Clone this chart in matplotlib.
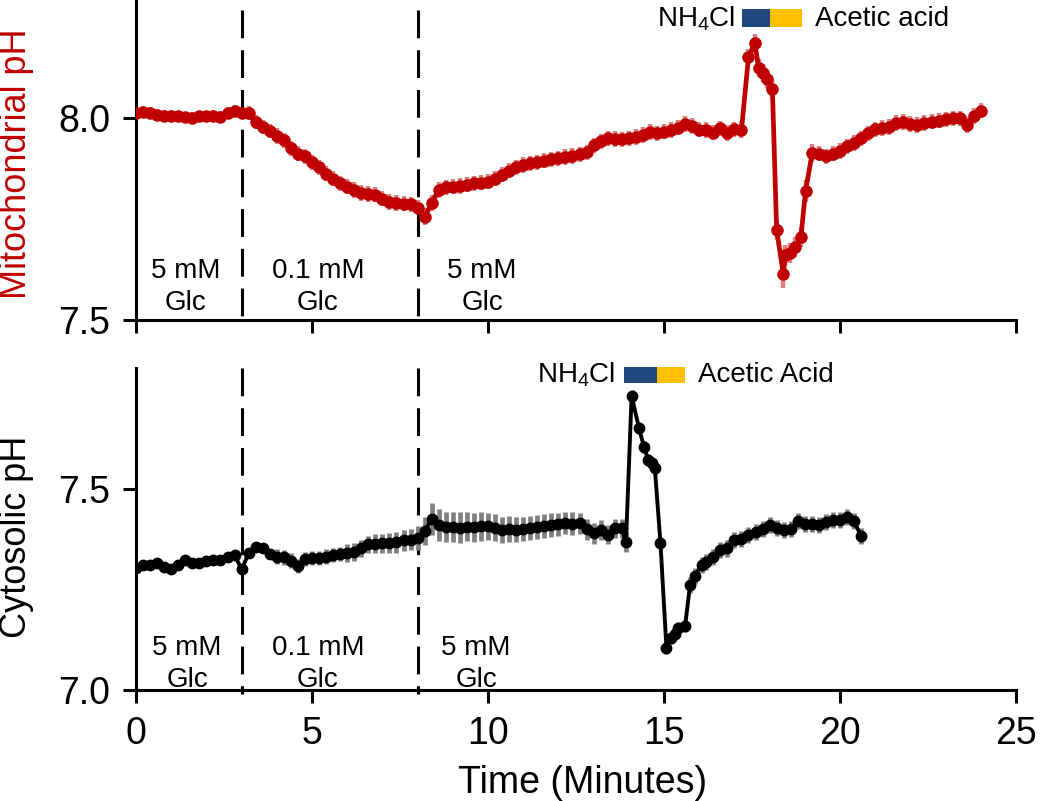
import matplotlib
matplotlib.use("Agg")
import matplotlib.pyplot as plt
from matplotlib.patches import Rectangle

plt.rcParams['font.family'] = ['Liberation Sans', 'DejaVu Sans']
plt.rcParams['mathtext.fontset'] = 'custom'
plt.rcParams['mathtext.rm'] = 'Liberation Sans'
plt.rcParams['mathtext.it'] = 'Liberation Sans'

# ---- mitochondrial pH (top panel) ----
mito_time = [
    0.0, 0.2, 0.4, 0.6, 0.8, 1.0, 1.2, 1.4, 1.6, 1.8,
    2.0, 2.2, 2.4, 2.6, 2.8, 3.0, 3.2, 3.4, 3.6, 3.8,
    4.0, 4.2, 4.4, 4.6, 4.8, 5.0, 5.2, 5.4, 5.6, 5.8,
    6.0, 6.2, 6.4, 6.6, 6.8, 7.0, 7.2, 7.4, 7.6, 7.8,
    8.0, 8.2, 8.4, 8.6, 8.8, 9.0, 9.2, 9.4, 9.6, 9.8,
    10.0, 10.2, 10.4, 10.6, 10.8, 11.0, 11.2, 11.4, 11.6, 11.8,
    12.0, 12.2, 12.4, 12.6, 12.8, 13.0, 13.2, 13.4, 13.6, 13.8,
    14.0, 14.2, 14.4, 14.6, 14.8, 15.0, 15.2, 15.4, 15.6, 15.8,
    16.0, 16.2, 16.4, 16.6, 16.8, 17.0, 17.2,
    17.40, 17.58, 17.69, 17.80, 17.92, 18.08, 18.20, 18.39, 18.45, 18.58,
    18.72, 18.89, 19.02, 19.21,
    19.4, 19.6, 19.8, 20.0, 20.2, 20.4, 20.6, 20.8, 21.0, 21.2,
    21.4, 21.6, 21.8, 22.0, 22.2, 22.4, 22.6, 22.8, 23.0, 23.2,
    23.4, 23.6, 23.8, 24.0,
]
mito_ph = [
    8.012, 8.015, 8.013, 8.008, 8.006, 8.005, 8.004, 8.002, 8.000, 8.004,
    8.004, 8.006, 8.003, 8.012, 8.017, 8.012, 8.012, 7.990, 7.978, 7.968,
    7.955, 7.945, 7.925, 7.912, 7.905, 7.890, 7.878, 7.862, 7.850, 7.838,
    7.830, 7.822, 7.814, 7.812, 7.810, 7.800, 7.792, 7.790, 7.788, 7.786,
    7.778, 7.755, 7.790, 7.822, 7.828, 7.830, 7.832, 7.835, 7.838, 7.840,
    7.842, 7.850, 7.860, 7.870, 7.878, 7.884, 7.888, 7.890, 7.894, 7.898,
    7.900, 7.903, 7.906, 7.910, 7.915, 7.932, 7.942, 7.950, 7.948, 7.947,
    7.950, 7.953, 7.958, 7.965, 7.962, 7.966, 7.970, 7.976, 7.985, 7.980,
    7.971, 7.970, 7.964, 7.974, 7.963, 7.972, 7.970,
    8.150, 8.185, 8.123, 8.112, 8.097, 8.071, 7.723, 7.614, 7.661, 7.665,
    7.680, 7.705, 7.819, 7.913,
    7.912, 7.905, 7.912, 7.918, 7.930, 7.938, 7.950, 7.962, 7.972, 7.975,
    7.978, 7.988, 7.990, 7.985, 7.983, 7.988, 7.991, 7.993, 7.997, 7.999,
    7.999, 7.983, 8.005, 8.018,
]
mito_err = [
    0.014, 0.014, 0.014, 0.014, 0.014, 0.014, 0.014, 0.014, 0.014, 0.014,
    0.014, 0.014, 0.014, 0.014, 0.014, 0.014, 0.017, 0.017, 0.017, 0.017,
    0.019, 0.019, 0.019, 0.019, 0.019, 0.019, 0.019, 0.019, 0.019, 0.019,
    0.019, 0.019, 0.019, 0.019, 0.019, 0.019, 0.019, 0.019, 0.019, 0.019,
    0.019, 0.021, 0.019, 0.019, 0.019, 0.019, 0.019, 0.019, 0.019, 0.019,
    0.019, 0.019, 0.019, 0.019, 0.019, 0.019, 0.019, 0.019, 0.019, 0.019,
    0.019, 0.019, 0.019, 0.019, 0.019, 0.019, 0.019, 0.019, 0.019, 0.019,
    0.019, 0.019, 0.019, 0.019, 0.019, 0.019, 0.019, 0.019, 0.019, 0.019,
    0.019, 0.019, 0.019, 0.019, 0.019, 0.019, 0.019,
    0.020, 0.022, 0.022, 0.022, 0.022, 0.025, 0.025, 0.035, 0.025, 0.025,
    0.025, 0.025, 0.028, 0.022,
    0.019, 0.019, 0.019, 0.019, 0.019, 0.019, 0.019, 0.019, 0.019, 0.019,
    0.019, 0.019, 0.019, 0.019, 0.019, 0.019, 0.019, 0.019, 0.019, 0.019,
    0.019, 0.019, 0.019, 0.019,
]

# ---- cytosolic pH (bottom panel) ----
cyto_time = [
    0.0, 0.2, 0.4, 0.6, 0.8, 1.0, 1.2, 1.4, 1.6, 1.8,
    2.0, 2.2, 2.4, 2.6, 2.8, 3.0, 3.2, 3.4, 3.6, 3.8,
    4.0, 4.2, 4.4, 4.6, 4.8, 5.0, 5.2, 5.4, 5.6, 5.8,
    6.0, 6.2, 6.4, 6.6, 6.8, 7.0, 7.2, 7.4, 7.6, 7.8,
    8.0, 8.2, 8.4, 8.6, 8.8, 9.0, 9.2, 9.4, 9.6, 9.8,
    10.0, 10.2, 10.4, 10.6, 10.8, 11.0, 11.2, 11.4, 11.6, 11.8,
    12.0, 12.2, 12.4, 12.6, 12.8, 13.0, 13.2, 13.4, 13.6, 13.8,
    13.92, 14.08, 14.29, 14.43, 14.55, 14.65, 14.74, 14.90, 15.07, 15.20,
    15.30, 15.41, 15.60, 15.74, 15.88, 16.07,
    16.2, 16.4, 16.6, 16.8, 17.0, 17.2, 17.4, 17.6, 17.8, 18.0,
    18.2, 18.4, 18.6, 18.8, 19.0, 19.2, 19.4, 19.6, 19.8, 20.0,
    20.2, 20.4, 20.6,
]
cyto_ph = [
    7.303, 7.310, 7.310, 7.316, 7.306, 7.300, 7.312, 7.323, 7.316, 7.316,
    7.322, 7.323, 7.324, 7.330, 7.336, 7.300, 7.340, 7.355, 7.352, 7.338,
    7.332, 7.330, 7.322, 7.308, 7.326, 7.328, 7.328, 7.332, 7.336, 7.338,
    7.340, 7.343, 7.352, 7.362, 7.364, 7.365, 7.366, 7.367, 7.372, 7.374,
    7.378, 7.395, 7.425, 7.410, 7.406, 7.406, 7.404, 7.406, 7.405, 7.407,
    7.407, 7.404, 7.398, 7.400, 7.399, 7.401, 7.403, 7.405, 7.408, 7.410,
    7.412, 7.415, 7.414, 7.415, 7.400, 7.390, 7.398, 7.386, 7.402, 7.402,
    7.368, 7.732, 7.651, 7.605, 7.572, 7.565, 7.551, 7.365, 7.104, 7.130,
    7.140, 7.153, 7.160, 7.261, 7.284, 7.311,
    7.318, 7.330, 7.348, 7.352, 7.372, 7.376, 7.385, 7.392, 7.400, 7.410,
    7.402, 7.398, 7.400, 7.420, 7.414, 7.412, 7.410, 7.418, 7.422, 7.422,
    7.431, 7.420, 7.383,
]
cyto_err = [
    0.008, 0.008, 0.008, 0.008, 0.008, 0.008, 0.008, 0.008, 0.008, 0.008,
    0.010, 0.010, 0.010, 0.010, 0.010, 0.012, 0.012, 0.012, 0.012, 0.012,
    0.018, 0.018, 0.018, 0.018, 0.018, 0.018, 0.018, 0.018, 0.018, 0.018,
    0.022, 0.022, 0.022, 0.022, 0.024, 0.024, 0.024, 0.026, 0.026, 0.026,
    0.030, 0.035, 0.040, 0.040, 0.038, 0.038, 0.038, 0.036, 0.036, 0.036,
    0.034, 0.034, 0.032, 0.032, 0.032, 0.030, 0.030, 0.030, 0.030, 0.030,
    0.028, 0.028, 0.028, 0.026, 0.026, 0.026, 0.026, 0.024, 0.024, 0.024,
    0.025, 0.015, 0.015, 0.015, 0.015, 0.015, 0.015, 0.015, 0.015, 0.015,
    0.015, 0.015, 0.015, 0.020, 0.020, 0.020,
    0.020, 0.020, 0.020, 0.020, 0.020, 0.020, 0.020, 0.020, 0.020, 0.020,
    0.020, 0.020, 0.020, 0.020, 0.020, 0.020, 0.020, 0.020, 0.020, 0.020,
    0.020, 0.020, 0.020,
]

# glucose periods and treatment labels
switch_times = [3, 8]
glc_labels = ['5 mM', '0.1 mM', '5 mM']
glc_x_top = [1.42, 5.17, 9.83]
glc_x_bottom = [1.45, 5.17, 9.66]

RED = '#C00000'
NAVY = '#1F497D'
GOLD = '#FFC000'
LW = 2.2

fig = plt.figure(figsize=(10.5, 8.01), dpi=100)
ax1 = fig.add_axes([136 / 1050, 1 - 320 / 801, 880 / 1050, 320 / 801])
ax2 = fig.add_axes([136 / 1050, 1 - 690 / 801, 880 / 1050, 322 / 801])


def style_axis(ax, ylim, yticks, show_xlabels):
    ax.set_xlim(0, 25)
    ax.set_ylim(*ylim)
    ax.set_xticks([0, 5, 10, 15, 20, 25])
    ax.set_yticks(yticks)
    ax.set_yticklabels([f'{v:.1f}' for v in yticks])
    if not show_xlabels:
        ax.set_xticklabels([])
    for side in ['top', 'right']:
        ax.spines[side].set_visible(False)
    for side in ['left', 'bottom']:
        ax.spines[side].set_linewidth(LW)
    ax.tick_params(direction='out', length=9.4, width=LW, labelsize=27, pad=9)
    ax.patch.set_alpha(0)


style_axis(ax1, (7.5, 8.292), [7.5, 8.0], False)
style_axis(ax2, (7.0, 7.801), [7.0, 7.5], True)

# dashed glucose switch lines, drawn top-down so the dash pattern starts at the top
for t in switch_times:
    ax1.plot([t, t], [8.267, 7.5], color='black', lw=LW, ls=(0, (9.1, 3.9)),
             clip_on=False, zorder=1)
    ax2.plot([t, t], [7.801, 6.99], color='black', lw=LW, ls=(0, (9.1, 3.9)),
             clip_on=False, zorder=1)

# data
ax1.errorbar(mito_time, mito_ph, yerr=mito_err, fmt='none', ecolor=RED,
             elinewidth=3.2, alpha=0.5, capsize=0, zorder=2)
ax1.plot(mito_time, mito_ph, '-o', color=RED, lw=3.4, ms=8, zorder=3)

ax2.errorbar(cyto_time, cyto_ph, yerr=cyto_err, fmt='none', ecolor='#808080',
             elinewidth=3.4, capsize=0, zorder=2)
ax2.plot(cyto_time, cyto_ph, '-o', color='black', lw=2.8, ms=7.5, zorder=3)

# glucose labels
for x, lab in zip(glc_x_top, glc_labels):
    ax1.text(x, 7.604, lab, ha='center', va='baseline', fontsize=20)
    ax1.text(x, 7.525, 'Glc', ha='center', va='baseline', fontsize=20)
for x, lab in zip(glc_x_bottom, glc_labels):
    ax2.text(x, 7.087, lab, ha='center', va='baseline', fontsize=20)
    ax2.text(x, 7.008, 'Glc', ha='center', va='baseline', fontsize=20)

# treatment bars
ax1.add_patch(Rectangle((17.22, 8.225), 0.78, 0.045, color=NAVY, clip_on=False, lw=0))
ax1.add_patch(Rectangle((18.0, 8.225), 0.92, 0.045, color=GOLD, clip_on=False, lw=0))
ax1.text(17.02, 8.245, r'NH$_{4}$Cl', ha='right', va='center', fontsize=20)
ax1.text(19.29, 8.245, 'Acetic acid', ha='left', va='center', fontsize=20)

ax2.add_patch(Rectangle((13.86, 7.764), 0.94, 0.039, color=NAVY, clip_on=False, lw=0))
ax2.add_patch(Rectangle((14.80, 7.764), 0.80, 0.039, color=GOLD, clip_on=False, lw=0))
ax2.text(13.61, 7.784, r'NH$_{4}$Cl', ha='right', va='center', fontsize=20)
ax2.text(15.97, 7.784, 'Acetic Acid', ha='left', va='center', fontsize=20)

# axis titles
fig.text(17 / 1050, 1 - 164 / 801, 'Mitochondrial pH', rotation=90, ha='center',
         va='center', fontsize=26, color=RED)
fig.text(17 / 1050, 1 - 537 / 801, 'Cytosolic pH', rotation=90, ha='center',
         va='center', fontsize=26)
fig.text(583 / 1050, 1 - 793 / 801, 'Time (Minutes)', ha='center', va='baseline',
         fontsize=27)

fig.savefig('out.png', dpi=100)
